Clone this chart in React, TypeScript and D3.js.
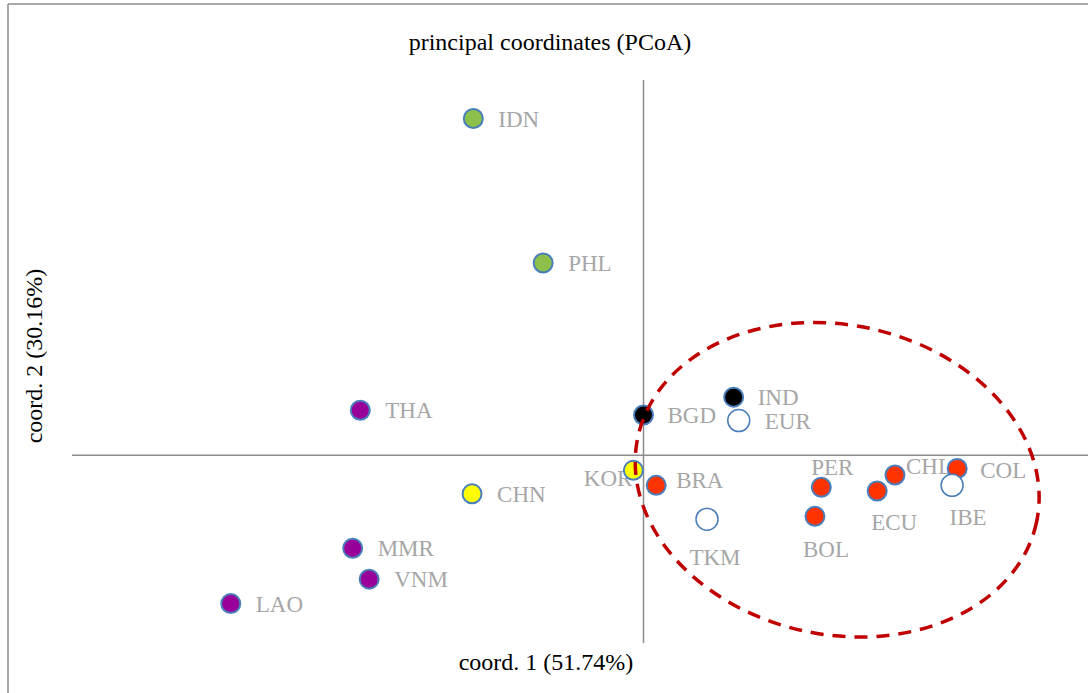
import React, { useEffect } from "react";
import * as d3 from "d3";

const codes = ["IDN", "PHL", "THA", "BGD", "IND", "EUR", "KOR", "BRA", "CHN", "TKM", "PER", "BOL", "ECU", "CHL", "COL", "IBE", "MMR", "VNM", "LAO"];
const coord1 = [-0.134, -0.079, -0.223, 0.000, 0.071, 0.075, -0.008, 0.010, -0.135, 0.050, 0.140, 0.135, 0.184, 0.198, 0.247, 0.243, -0.229, -0.216, -0.325];
const coord2 = [0.359, 0.205, 0.048, 0.043, 0.062, 0.037, -0.016, -0.032, -0.041, -0.068, -0.034, -0.065, -0.038, -0.021, -0.014, -0.032, -0.099, -0.132, -0.158];
const groups = ["g", "g", "p", "k", "k", "w", "y", "r", "y", "w", "r", "r", "r", "r", "r", "w", "p", "p", "p"];

const titleText = "principal coordinates (PCoA)";
const xLabel = "coord. 1 (51.74%)";
const yLabel = "coord. 2 (30.16%)";

// cluster ellipse in data units
const ellipseCenter = [0.1525, -0.026];
const ellipseRadii = [0.1605, 0.165];
const ellipseAngle = 12;

const fills: Record<string, string> = {
  g: "#8CC04B",
  p: "#990099",
  k: "#000000",
  y: "#FFFF00",
  r: "#FF3300",
  w: "#FFFFFF",
};

// label placement (pixel offsets, anchor)
const labelPos: Record<string, [number, number, string]> = {
  KOR: [-1, 8, "end"],
  BRA: [20, -5, "start"],
  TKM: [8, 38, "middle"],
  PER: [11, -20, "middle"],
  BOL: [11, 33, "middle"],
  ECU: [17, 31, "middle"],
  CHL: [11, -9, "start"],
  COL: [23, 1, "start"],
  IBE: [16, 32, "middle"],
  EUR: [26, 0, "start"],
  IND: [24, 0, "start"],
  BGD: [24, 0, "start"],
};

const W = 1088;
const H = 693;

export default function App() {
  useEffect(() => {
    document.body.style.margin = "0";
  }, []);

  const x = d3.scaleLinear().domain([-0.45, 0.35]).range([72, 1088]);
  const y = d3.scaleLinear().domain([-0.2, 0.4]).range([643, 80]);

  const ecx = x(ellipseCenter[0]);
  const ecy = y(ellipseCenter[1]);
  const erx = x(ellipseCenter[0] + ellipseRadii[0]) - ecx;
  const ery = ecy - y(ellipseCenter[1] + ellipseRadii[1]);

  const serif = "'Liberation Serif', 'Times New Roman', serif";

  return (
    <svg width={W} height={H} style={{ display: "block", background: "#fff" }}>
      {/* frame */}
      <line x1={8} y1={4} x2={W} y2={4} stroke="#8c8c8c" strokeWidth={1.5} />
      <line x1={8} y1={4} x2={8} y2={H} stroke="#8c8c8c" strokeWidth={1.5} />

      <text x={550} y={50} textAnchor="middle" fontFamily={serif} fontSize={24} fill="#000">{titleText}</text>

      {/* axes through origin */}
      <line x1={x(-0.45)} x2={x(0.35)} y1={y(0)} y2={y(0)} stroke="#8c8c8c" strokeWidth={1.5} />
      <line x1={x(0)} x2={x(0)} y1={y(0.4)} y2={y(-0.2)} stroke="#8c8c8c" strokeWidth={1.5} />

      <text x={546} y={670} textAnchor="middle" fontFamily={serif} fontSize={24} fill="#000">{xLabel}</text>
      <text transform={`translate(42,356) rotate(-90)`} textAnchor="middle" fontFamily={serif} fontSize={24} fill="#000">{yLabel}</text>

      {/* labels */}
      {codes.map((c, i) => {
        const lp = labelPos[c] || [25, 0, "start"];
        return (
          <text
            key={"l" + c}
            x={x(coord1[i]) + lp[0]}
            y={y(coord2[i]) + lp[1]}
            dy="0.35em"
            textAnchor={lp[2]}
            fontFamily={serif}
            fontSize={23}
            fill="#A6A6A6"
          >
            {c}
          </text>
        );
      })}

      {/* points */}
      {codes.map((c, i) => (
        <circle
          key={"p" + c}
          cx={x(coord1[i])}
          cy={y(coord2[i])}
          r={groups[i] === "w" ? 11 : 9.5}
          fill={fills[groups[i]]}
          stroke="#4A7EBB"
          strokeWidth={groups[i] === "w" ? 1.5 : 2}
        />
      ))}

      {/* cluster ellipse */}
      <ellipse
        cx={0}
        cy={0}
        rx={erx}
        ry={ery}
        transform={`translate(${ecx},${ecy}) rotate(${ellipseAngle})`}
        fill="none"
        stroke="#C00000"
        strokeWidth={3.5}
        strokeDasharray="13 9"
      />
    </svg>
  );
}
